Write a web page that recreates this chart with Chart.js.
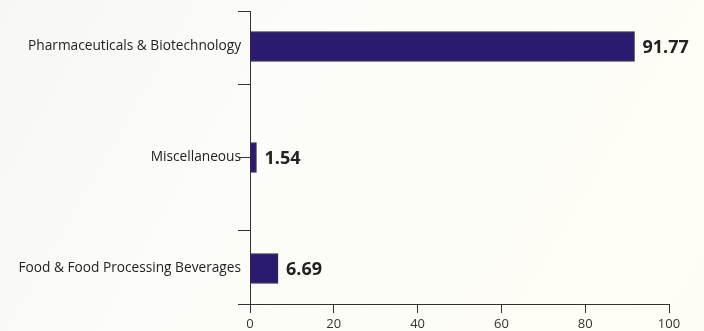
<!DOCTYPE html>
<html>
<head>
<meta charset="utf-8">
<script src="https://cdn.jsdelivr.net/npm/chart.js@4/dist/chart.umd.min.js"></script>
<style>
  html, body { margin: 0; padding: 0; }
  body { width: 704px; height: 331px; background: linear-gradient(120deg, #f7f7f5 0%, #fcfcf8 40%, #fefdf5 100%); }
  #wrap { position: relative; width: 704px; height: 331px; }
</style>
</head>
<body>
<div id="wrap"><canvas id="c" width="704" height="331"></canvas></div>
<script>
// Data (top to bottom)
const categories = ['Pharmaceuticals & Biotechnology', 'Miscellaneous', 'Food & Food Processing Beverages'];
const values = [91.77, 1.54, 6.69];
const valueLabels = ['91.77', '1.54', '6.69'];
const xTicks = [0, 20, 40, 60, 80, 100];
// y-axis tick marks divide the axis into four equal parts
const yMin = -0.32, yMax = 2.32;
const yTickMarks = [-0.32, 0.34, 1, 1.66, 2.32];

const barLabels = {
  id: 'barLabels',
  afterDatasetsDraw(chart) {
    const ctx = chart.ctx;
    const meta = chart.getDatasetMeta(0);
    ctx.save();
    ctx.font = 'bold 18px "Open Sans", sans-serif';
    ctx.fillStyle = '#222222';
    ctx.textAlign = 'left';
    ctx.textBaseline = 'middle';
    meta.data.forEach((el, i) => {
      ctx.fillText(valueLabels[i], el.x + 8, el.y + 1);
    });
    ctx.restore();
  }
};

const allYTicks = Array.from(new Set([...yTickMarks, ...categories.map((_, i) => i)])).sort((a, b) => a - b);

new Chart(document.getElementById('c'), {
  type: 'bar',
  data: {
    datasets: [{
      data: values.map((v, i) => ({ x: v, y: i })),
      backgroundColor: '#2b1a6f',
      borderColor: '#2e2e2e',
      borderWidth: 1,
      barThickness: 30
    }]
  },
  options: {
    indexAxis: 'y',
    responsive: false,
    animation: false,
    events: [],
    layout: { padding: { top: 11, right: 35, left: 0, bottom: 0 } },
    plugins: { legend: { display: false }, tooltip: { enabled: false } },
    scales: {
      x: {
        type: 'linear',
        min: 0, max: 100,
        offset: false,
        afterBuildTicks(scale) { scale.ticks = xTicks.map(v => ({ value: v })); },
        afterFit(scale) { scale.height = 27; },
        grid: { drawOnChartArea: false, offset: false, tickLength: 9, tickColor: '#333333', tickWidth: 1 },
        border: { color: '#333333', width: 1 },
        ticks: { color: '#333333', font: { family: '"Open Sans", sans-serif', size: 13 }, padding: 3, maxRotation: 0, autoSkip: false }
      },
      y: {
        type: 'linear',
        min: yMin, max: yMax,
        reverse: true,
        offset: false,
        afterBuildTicks(scale) { scale.ticks = allYTicks.map(v => ({ value: v })); },
        afterFit(scale) { scale.width = 250; },
        grid: {
          drawOnChartArea: false,
          offset: false,
          tickLength: 12,
          tickWidth: 1,
          tickColor: (c) => (c.tick && yTickMarks.includes(c.tick.value)) ? '#333333' : 'rgba(0,0,0,0)'
        },
        border: { color: '#333333', width: 1 },
        ticks: {
          autoSkip: false,
          padding: -3,
          color: '#222222',
          font: { family: '"Open Sans", sans-serif', size: 13.7 },
          callback: (v) => Number.isInteger(v) ? categories[v] : ''
        }
      }
    }
  },
  plugins: [barLabels]
});
</script>
</body>
</html>
